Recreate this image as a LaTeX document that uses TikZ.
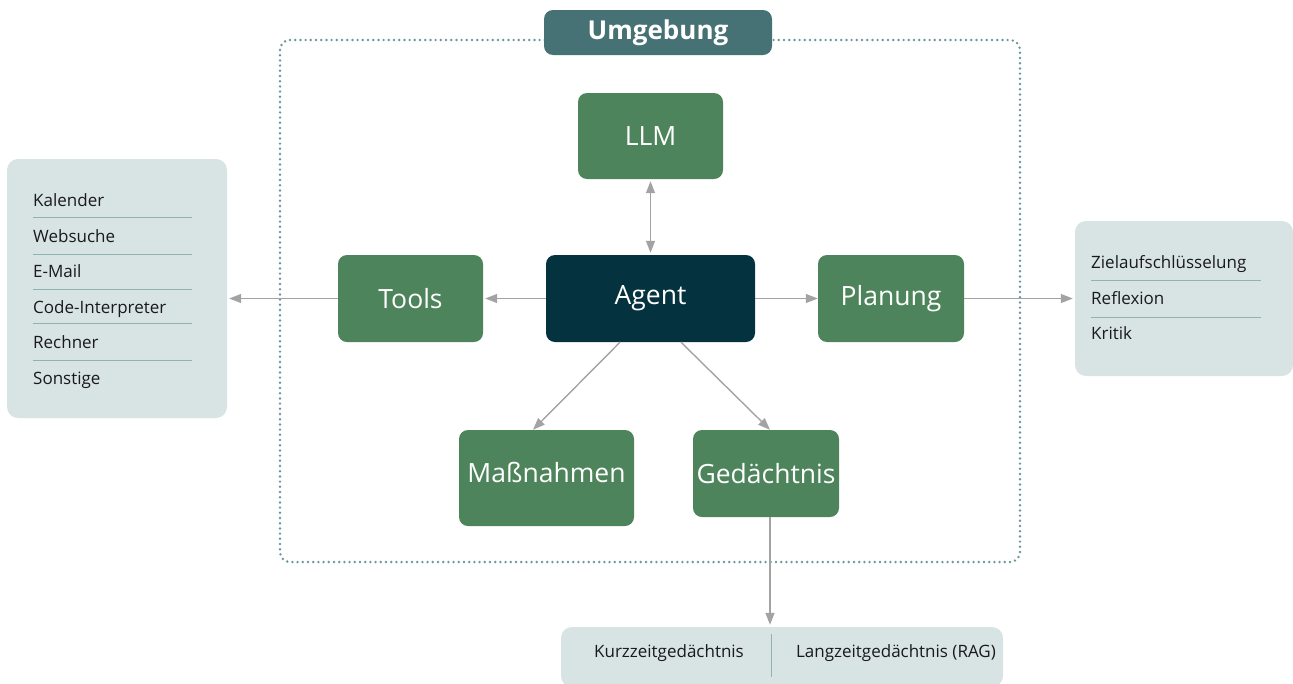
\documentclass[tikz,border=0pt]{standalone}
\usepackage{fontspec}
\setmainfont{Open Sans}
\usetikzlibrary{arrows.meta}
\definecolor{boxgreen}{HTML}{4D845B}
\definecolor{agentblue}{HTML}{05323F}
\definecolor{labelteal}{HTML}{477275}
\definecolor{lightbg}{HTML}{D7E4E3}
\definecolor{arrowgray}{HTML}{A3A3A3}
\definecolor{sepline}{HTML}{8FB3B0}
\definecolor{dotcol}{HTML}{6A9797}
\definecolor{txt}{HTML}{1A1A1A}
\tikzset{
  gbox/.style={fill=boxgreen, rounded corners=9pt, text=white, font=\fontsize{26.5}{30}\selectfont, inner sep=0pt},
  abox/.style={fill=agentblue, rounded corners=9pt, text=white, font=\fontsize{26.5}{30}\selectfont, inner sep=0pt},
  lbox/.style={fill=lightbg, rounded corners=11pt, inner sep=0pt},
  item/.style={anchor=base west, inner sep=0pt, text=txt, font=\fontsize{17}{20}\selectfont},
  sep/.style={draw=sepline, line width=1pt},
  conn/.style={draw=arrowgray, line width=1.4pt, -{Triangle[length=12pt,width=9pt]}},
  conn2/.style={draw=arrowgray, line width=1.4pt, {Triangle[length=12pt,width=9pt]}-{Triangle[length=12pt,width=9pt]}},
}
\begin{document}
\begin{tikzpicture}[x=1pt,y=-1pt]
\useasboundingbox (0,0) rectangle (1293,683);
% environment dotted frame
\draw[dotcol, line width=2.7pt, line cap=round, dash pattern=on 0pt off 5.2pt, rounded corners=10pt] (280,40) rectangle (1020,562);
\node[fill=labelteal, rounded corners=9pt, minimum width=228pt, minimum height=45pt, inner sep=0pt, text=white, font=\fontsize{26}{30}\selectfont\bfseries] (env) at (658,32.5) {Umgebung};
% main nodes
\node[gbox, minimum width=145pt, minimum height=86pt] (llm) at (650.5,136) {LLM};
\node[abox, minimum width=209pt, minimum height=87pt] (agent) at (650.5,298.5) {Agent};
\node[gbox, minimum width=145pt, minimum height=87pt] (tools) at (410.5,298.5) {Tools};
\node[gbox, minimum width=146pt, minimum height=87pt] (plan) at (891,298.5) {Planung};
\node[gbox, minimum width=175pt, minimum height=96pt, text depth=12pt] (mass) at (546.5,478) {Maßnahmen};
\node[gbox, minimum width=146pt, minimum height=87pt] (ged) at (766,473.5) {Gedächtnis};
% side boxes
\node[lbox, minimum width=220pt, minimum height=259pt] (left) at (117,288.5) {};
\node[lbox, minimum width=218pt, minimum height=155pt] (right) at (1184,298.5) {};
\node[lbox, minimum width=442pt, minimum height=60pt] (bottom) at (782,657) {};
% left list
\node[item] (k1) at (33,206) {Kalender};
\node[item] (k2) at (33,242) {Websuche};
\node[item] (k3) at (33,277) {E-Mail};
\node[item] (k4) at (33,313) {Code-Interpreter};
\node[item] (k5) at (33,348) {Rechner};
\node[item] (k6) at (33,384) {Sonstige};
\foreach \y in {217,254,289,323,360} \draw[sep] (33,\y) -- (192,\y);
% right list
\node[item] (r1) at (1091,268) {Zielaufschlüsselung};
\node[item] (r2) at (1091,304) {Reflexion};
\node[item] (r3) at (1091,339) {Kritik};
\foreach \y in {280,317} \draw[sep] (1091,\y) -- (1261,\y);
% bottom list
\node[item, anchor=base] (b1) at (669,657) {Kurzzeitgedächtnis};
\node[item, anchor=base] (b2) at (896,657) {Langzeitgedächtnis (RAG)};
\draw[sep] (771,634) -- (771,677);
% connectors
\draw[conn2, shorten <=2pt, shorten >=2pt] (llm.south) -- (agent.north);
\draw[conn, shorten >=2pt] (agent.west) -- (tools.east);
\draw[conn, shorten >=2pt] (tools.west) -- (tools.west -| left.east);
\draw[conn] (agent.east) -- (plan.west);
\draw[conn, shorten >=2pt] (plan.east) -- (plan.east -| right.west);
\draw[conn] ([xshift=-30.5pt]agent.south) -- ([xshift=-13.5pt]mass.north);
\draw[conn] ([xshift=30.5pt]agent.south) -- ([xshift=4pt]ged.north);
\draw[conn, shorten >=2pt] ([xshift=4pt]ged.south) -- ([xshift=4pt]ged.south |- bottom.north);
\end{tikzpicture}
\end{document}
